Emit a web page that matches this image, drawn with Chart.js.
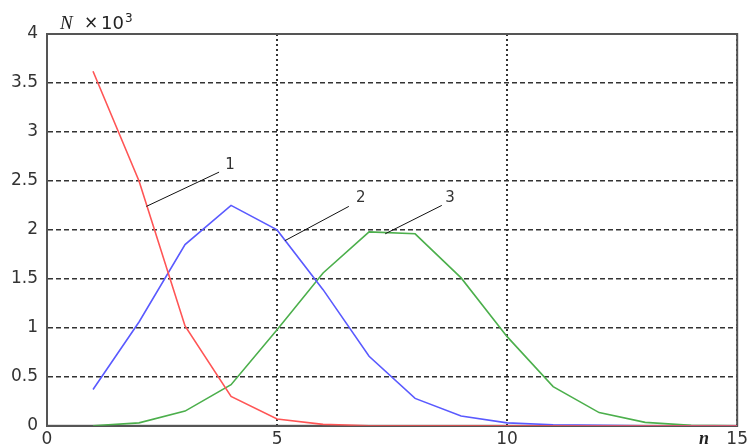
<!DOCTYPE html>
<html>
<head>
<meta charset="utf-8">
<script src="https://cdn.jsdelivr.net/npm/chart.js@4/dist/chart.umd.min.js"></script>
<style>
  html, body { margin: 0; padding: 0; background: #fff; }
  #wrap { width: 752px; height: 445px; }
</style>
</head>
<body>
<div id="wrap"><canvas id="popChart"></canvas></div>
<script>
// generation number n and population N (thousands) for the three curves
const nValues = [1, 2, 3, 4, 5, 6, 7, 8, 9, 10, 11, 12, 13, 14, 15];
const curve1 = [3.62, 2.50, 1.02, 0.30, 0.07, 0.015, 0, 0, 0, 0, 0, 0, 0, 0, 0];
const curve2 = [0.37, 1.06, 1.85, 2.25, 2.00, 1.39, 0.71, 0.28, 0.10, 0.03, 0.01, 0.005, 0, 0, 0];
const curve3 = [0, 0.03, 0.15, 0.42, 0.98, 1.56, 1.98, 1.96, 1.51, 0.91, 0.40, 0.135, 0.035, 0.005, 0];
const curveNames = ["1", "2", "3"];

// callouts in data units: point on the curve -> end of leader -> number
const leaderFrom = [[2.16, 2.24], [5.17, 1.89], [7.35, 1.96]];
const leaderTo = [[3.74, 2.59], [6.56, 2.24], [8.58, 2.25]];
const labelAt = [[3.98, 2.66], [6.82, 2.32], [8.76, 2.32]];

const toPoints = ys => nValues.map((n, i) => ({ x: n, y: ys[i] }));

const frame = {
    id: "frame",
    beforeDatasetsDraw(chart) {
        const { ctx, chartArea: a } = chart;
        ctx.save();
        ctx.strokeStyle = "#555";
        ctx.lineWidth = 2;
        ctx.strokeRect(a.left, a.top, a.right - a.left, a.bottom - a.top);
        ctx.restore();
    },
    afterDraw(chart) {
        const { ctx } = chart;
        const xs = chart.scales.x, ys = chart.scales.y;
        ctx.save();

        // leader lines and curve numbers
        ctx.strokeStyle = "#111";
        ctx.lineWidth = 1;
        leaderFrom.forEach((p, i) => {
            ctx.beginPath();
            ctx.moveTo(xs.getPixelForValue(p[0]), ys.getPixelForValue(p[1]));
            ctx.lineTo(xs.getPixelForValue(leaderTo[i][0]), ys.getPixelForValue(leaderTo[i][1]));
            ctx.stroke();
        });
        ctx.fillStyle = "#333";
        ctx.font = '15px "DejaVu Sans"';
        ctx.textAlign = "center";
        ctx.textBaseline = "middle";
        curveNames.forEach((t, i) => {
            ctx.fillText(t, xs.getPixelForValue(labelAt[i][0]), ys.getPixelForValue(labelAt[i][1]));
        });

        // axis titles
        ctx.fillStyle = "#222";
        ctx.textAlign = "left";
        ctx.textBaseline = "alphabetic";
        ctx.font = 'italic 19px "Liberation Serif"';
        ctx.fillText("N", 60, 29);
        ctx.font = '17px "DejaVu Sans"';
        ctx.fillText("\u00d7", 84, 28);
        ctx.font = '18px "DejaVu Sans"';
        ctx.fillText("10", 101, 29);
        ctx.font = '12px "DejaVu Sans"';
        ctx.fillText("3", 125, 22);

        ctx.font = 'italic bold 18px "Liberation Serif"';
        ctx.textAlign = "center";
        ctx.fillText("n", 704, 444);
        ctx.restore();
    }
};

new Chart(document.getElementById("popChart"), {
    type: "line",
    data: {
        datasets: [
            { label: curveNames[0], data: toPoints(curve1), borderColor: "#ff5555", borderWidth: 1.6, pointRadius: 0, tension: 0 },
            { label: curveNames[1], data: toPoints(curve2), borderColor: "#5a5aff", borderWidth: 1.6, pointRadius: 0, tension: 0 },
            { label: curveNames[2], data: toPoints(curve3), borderColor: "#4caf4c", borderWidth: 1.6, pointRadius: 0, tension: 0 }
        ]
    },
    options: {
        responsive: true,
        maintainAspectRatio: false,
        animation: false,
        layout: { padding: { top: 34, right: 12, left: 0, bottom: 0 } },
        plugins: { legend: { display: false }, tooltip: { enabled: false } },
        scales: {
            x: {
                type: "linear",
                min: 0,
                max: 15,
                afterFit: s => { s.height = 19; },
                ticks: { stepSize: 5, padding: 4, color: "#333", font: { family: "DejaVu Sans", size: 17 } },
                grid: { color: "#333", lineWidth: 2, drawTicks: false },
                border: { display: true, color: "#555", width: 2, dash: [2, 3] }
            },
            y: {
                min: 0,
                max: 4,
                afterFit: s => { s.width = 47; },
                ticks: {
                    stepSize: 0.5,
                    padding: 9,
                    color: "#333",
                    font: { family: "DejaVu Sans", size: 17 },
                    callback: v => String(v)
                },
                grid: { color: "#333", lineWidth: 1.5, drawTicks: false },
                border: { display: true, color: "#555", width: 2, dash: [5, 3] }
            }
        }
    },
    plugins: [frame]
});
</script>
</body>
</html>
